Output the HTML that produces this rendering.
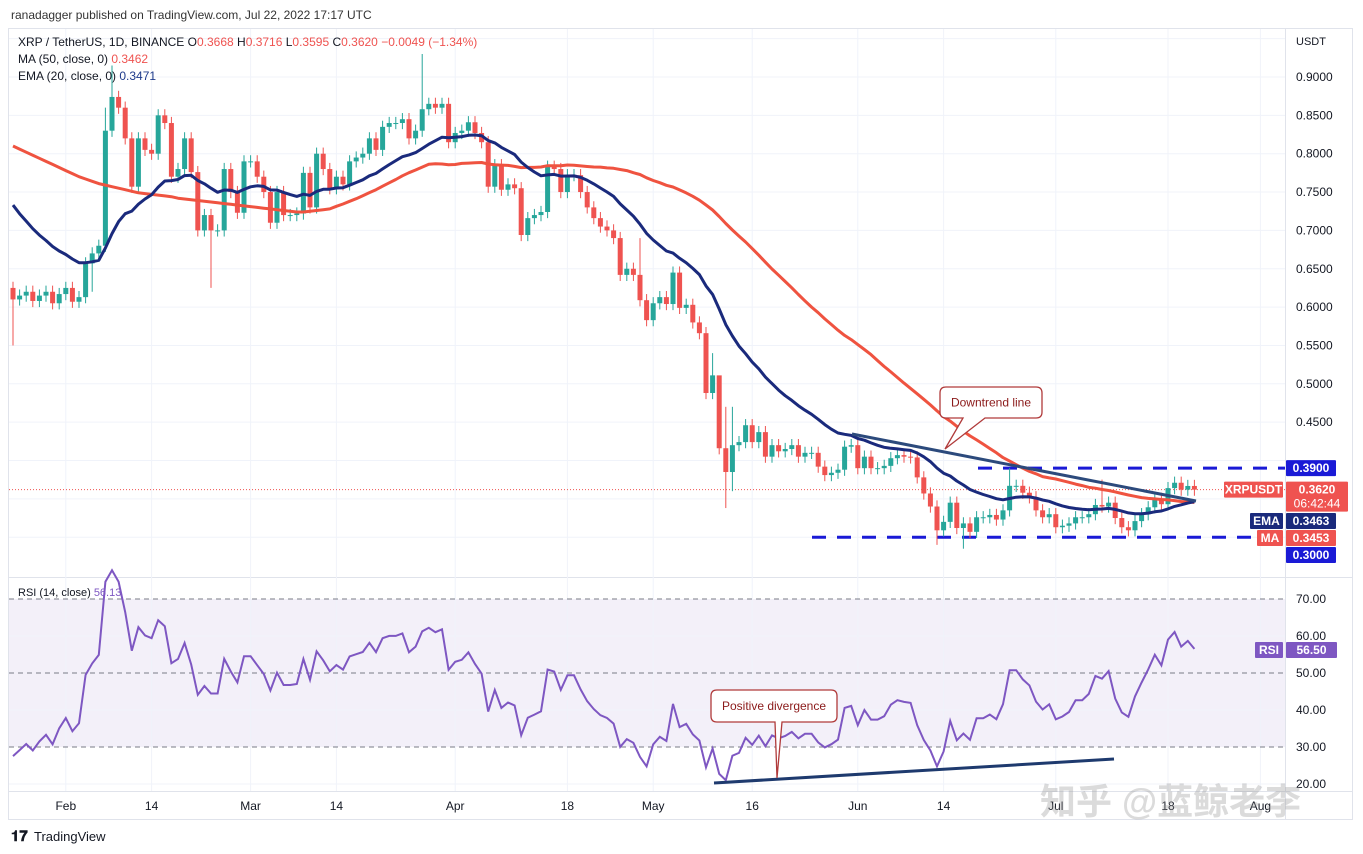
<!DOCTYPE html>
<html><head><meta charset="utf-8"><style>
html,body{margin:0;padding:0;background:#fff;}
svg{display:block;font-family:"Liberation Sans","Noto Sans CJK SC",sans-serif;}
</style></head><body>
<svg id="chart" width="1363" height="854" viewBox="0 0 1363 854" xmlns="http://www.w3.org/2000/svg">
<rect x="0" y="0" width="1363" height="854" fill="#fff"/>
<text x="11" y="19" font-size="12" fill="#333">ranadagger published on TradingView.com, Jul 22, 2022 17:17 UTC</text>
<rect x="8.5" y="28.5" width="1344" height="791" fill="none" stroke="#e0e3eb"/>
<line x1="1285.5" y1="28" x2="1285.5" y2="820" stroke="#e0e3eb"/>
<line x1="8" y1="577.5" x2="1352" y2="577.5" stroke="#e0e3eb"/>
<line x1="8" y1="791.5" x2="1352" y2="791.5" stroke="#e0e3eb"/>
<rect x="9" y="599" width="1276" height="148" fill="#7e57c2" fill-opacity="0.09"/>
<g id="grid"></g>
<g id="annotLow"></g>
<g id="candles"></g>
<g id="lines"></g>
<g id="annot"></g>
<g id="axes"></g>
<text x="18" y="46" font-size="12" fill="#131722">XRP / TetherUS, 1D, BINANCE <tspan fill="#131722">O</tspan><tspan fill="#ef5350">0.3668</tspan> <tspan fill="#131722">H</tspan><tspan fill="#ef5350">0.3716</tspan> <tspan fill="#131722">L</tspan><tspan fill="#ef5350">0.3595</tspan> <tspan fill="#131722">C</tspan><tspan fill="#ef5350">0.3620</tspan> <tspan fill="#ef5350">−0.0049 (−1.34%)</tspan></text>
<text x="18" y="63" font-size="12" fill="#131722">MA (50, close, 0) <tspan fill="#ef5350">0.3462</tspan></text>
<text x="18" y="80" font-size="12" fill="#131722">EMA (20, close, 0) <tspan fill="#1e3a8a">0.3471</tspan></text>
<text x="18" y="596" font-size="11" fill="#131722">RSI (14, close) <tspan fill="#7e57c2">56.13</tspan></text>
<text x="1040" y="814" font-size="36" font-weight="bold" fill="#999" fill-opacity="0.35">知乎 @蓝鲸老李</text>
<g><text x="11" y="841" font-size="15" font-weight="bold" fill="#131722">𝟏𝟕</text><text x="34" y="841" font-size="13" fill="#131722">TradingView</text></g>
</svg>
<script>
const closes = [.61,.615,.62,.608,.615,.62,.605,.617,.625,.607,
.613,.657,.67,.68,.83,.874,.86,.82,.757,.82,
.805,.80,.85,.84,.77,.78,.82,.776,.70,.72,
.70,.70,.78,.75,.723,.79,.79,.77,.75,.71,
.75,.72,.72,.722,.775,.73,.80,.78,.755,.77,
.76,.79,.795,.80,.82,.805,.835,.84,.84,.845,
.82,.83,.858,.865,.86,.865,
.815,.827,.83,.841,.827,.815,.757,.785,.753,.76,
.755,.694,.716,.72,.724,.783,.78,.75,.772,.772,
.75,.73,.716,.705,.70,.69,.642,.65,.642,.609,
.583,.605,.613,.604,.645,.599,.603,.58,.566,.488,
.511,.416,.385,.42,.424,.446,.424,.437,.405,.42,
.412,.415,.42,.405,.41,.41,.392,.381,.384,.388,
.418,.42,.39,.405,.39,.39,.393,.403,
.407,.405,.404,.378,.357,.34,.309,.32,.345,.312,
.318,.307,.326,.326,.329,.323,.335,.367,.367,.358,
.352,.335,.326,.33,.313,.315,.318,.326,.326,.33,
.342,.34,.345,.325,.313,.309,.321,.33,.339,.35,
.343,.364,.371,.362,.3668,.362];
const firstOpen = 0.625;
// notable wick extremes: [index, high, low]
const wickHighs = [[15,.915],[14,.86],[62,.93],[95,.69],[106,.54],[107,.47],[108,.47],[109,.47],[151,.39],[165,.375]];
const wickLows = [[0,.55],[12,.62],[30,.625],[108,.338],[109,.36],[140,.29],[144,.285]];
const maHead = [.81,.806,.802,.798,.794,.79,.786,.782,.778,.774,.77,.767,.764,.761,.759,.757,.755,.753,.751,.749,.748,.747,.746,.745,.744,.742,.741,.74,.739,.738,.737,.736,.735,.734,.733,.732,.731,.73,.729,.728,.727,.726,.725,.724,.724,.725,.726,.727,.728];
const emaSeed = 0.733;
const priceTicks = [0.90,0.85,0.80,0.75,0.70,0.65,0.60,0.55,0.50,0.45,0.40,0.35,0.30];
const rsiTicks = [70,60,50,40,30,20];
const dateLabels = ["Feb","14","Mar","14","Apr","18","May","16","Jun","14","Jul","18","Aug"];
const dateIndex = [8,21,36,49,67,84,97,112,128,141,158,175,189];

const NS="http://www.w3.org/2000/svg";
function px(i){return 13+i*6.6;}
function py(p){return 77+(0.9-p)*767;}
function ry(v){return 599+(70-v)*3.7;}
function mk(tag,attrs,parent){const e=document.createElementNS(NS,tag);for(const k in attrs)e.setAttribute(k,attrs[k]);parent.appendChild(e);return e;}
const G=document.getElementById('grid'),C=document.getElementById('candles'),L=document.getElementById('lines'),A=document.getElementById('annot'),AL=document.getElementById('annotLow'),X=document.getElementById('axes');

[0.95].concat(priceTicks).forEach(p=>{const l=mk('line',{x1:9,x2:1285,y1:py(p),y2:py(p),stroke:'#f0f3fa'},G);

});
dateIndex.forEach(i=>{const x=px(i);if(x>1285)return;const l=mk('line',{x1:x,x2:x,y1:29,y2:791,stroke:'#f0f3fa'},G);

});
[60,40,20].forEach(v=>{const l=mk('line',{x1:9,x2:1285,y1:ry(v),y2:ry(v),stroke:'#f0f3fa'},G);

});
[70,50,30].forEach(v=>{const l=mk('line',{x1:9,x2:1285,y1:ry(v),y2:ry(v),stroke:'#787b86','stroke-dasharray':'5,4','stroke-width':1},G);

});
const lastC=closes[closes.length-1];
const cpl=mk('line',{x1:9,x2:1285,y1:py(lastC),y2:py(lastC),stroke:'#ef5350','stroke-dasharray':'1,2'},G);



const hiMap={},loMap={};wickHighs.forEach(w=>hiMap[w[0]]=w[1]);wickLows.forEach(w=>loMap[w[0]]=w[1]);
closes.forEach((c,i)=>{
  const o=i===0?firstOpen:closes[i-1];
  const up=c>=o;const col=up?'#26a69a':'#ef5350';
  const h=hiMap[i]!==undefined?hiMap[i]:Math.max(o,c)+0.008;
  const lo=loMap[i]!==undefined?loMap[i]:Math.min(o,c)-0.008;
  const x=px(i);
  const w=mk('line',{x1:x,x2:x,y1:py(h),y2:py(lo),stroke:col,'stroke-width':1},C);
  
  
  const top=py(Math.max(o,c)),bh=Math.max(1,py(Math.min(o,c))-top);
  const b=mk('rect',{x:x-2.5,y:top,width:5,height:bh,fill:col},C);
  
  
});

const ma=closes.map((c,i)=>{if(i<maHead.length)return maHead[i];let s=0;for(let k=i-49;k<=i;k++)s+=closes[k];return s/50;});
const ema=[];let e=emaSeed;const kf=2/21;closes.forEach((c,i)=>{if(i>0)e=c*kf+e*(1-kf);ema.push(e);});
function poly(arr,col,name,fy){const pts=arr.map((v,i)=>px(i).toFixed(1)+','+fy(v).toFixed(1)).join(' ');const p=mk('polyline',{points:pts,fill:'none',stroke:col,'stroke-width':3,'stroke-linejoin':'round'},L);

return p;}
poly(ma,'#ef5340','ma50-line',py);
poly(ema,'#1a2a7c','ema20-line',py);

let ag=0.005,al=0.012;const rsi=[];
closes.forEach((c,i)=>{const o=i===0?firstOpen:closes[i-1];const d=c-o;ag=(ag*13+Math.max(d,0))/14;al=(al*13+Math.max(-d,0))/14;rsi.push(100-100/(1+ag/al));});
const rl=mk('polyline',{points:rsi.map((v,i)=>px(i).toFixed(1)+','+ry(v).toFixed(1)).join(' '),fill:'none',stroke:'#7e57c2','stroke-width':2},L);



function dash(x1,p,name){const l=mk('line',{x1:x1,x2:1285,y1:py(p),y2:py(p),stroke:'#1a1ad6','stroke-width':3,'stroke-dasharray':'14,11'},AL);

}
dash(978,0.39,'resistance-line');
dash(812,0.30,'support-line');
const dt=mk('line',{x1:852,y1:434,x2:1196,y2:501,stroke:'#2c4a7c','stroke-width':3},A);


const rt=mk('line',{x1:714,y1:783,x2:1114,y2:759,stroke:'#1e3a6e','stroke-width':3},A);


function callout(x,y,w,h,tx,ty,px1,px2,text,name){
  const g=mk('g',{},A);
  
  
  mk('path',{d:`M${x+6},${y} H${x+w-6} Q${x+w},${y} ${x+w},${y+6} V${y+h-6} Q${x+w},${y+h} ${x+w-6},${y+h} H${px2} L${tx},${ty} L${px1},${y+h} H${x+6} Q${x},${y+h} ${x},${y+h-6} V${y+6} Q${x},${y} ${x+6},${y} Z`,fill:'#fff',stroke:'#b03a3a','stroke-width':1.3},g);
  const t=mk('text',{x:x+w/2,y:y+h/2+4,'font-size':12,fill:'#8b1a1a','text-anchor':'middle'},g);t.textContent=text;
}
callout(940,387,102,31,945,449,963,985,'Downtrend line','downtrend-callout');
callout(711,690,126,32,777,778,775,782,'Positive divergence','divergence-callout');

priceTicks.forEach(p=>{if(p===0.40||p===0.35||p===0.30)return;const t=mk('text',{x:1296,y:py(p)+4,'font-size':12,fill:'#131722'},X);t.textContent=p.toFixed(4);

});
const ut=mk('text',{x:1296,y:45,'font-size':11,fill:'#131722'},X);ut.textContent='USDT';


rsiTicks.forEach(v=>{const t=mk('text',{x:1296,y:ry(v)+4,'font-size':12,fill:'#131722'},X);t.textContent=v.toFixed(2);

});
dateLabels.forEach((d,k)=>{const x=px(dateIndex[k]);const t=mk('text',{x:x,y:810,'font-size':12,fill:'#131722','text-anchor':'middle'},X);t.textContent=d;

});
function tag(x,y,w,h,fill,text,name,sub){const g=mk('g',{},X);


mk('rect',{x:x,y:y,width:w,height:h,fill:fill,rx:1},g);const t=mk('text',{x:x+w/2,y:y+12,'font-size':12,'font-weight':'bold',fill:'#fff','text-anchor':'middle'},g);t.textContent=text;
if(sub){const s=mk('text',{x:x+w/2,y:y+26,'font-size':12,fill:'#fff','text-anchor':'middle'},g);s.textContent=sub;}}
tag(1286,py(0.39)-8,50,16,'#1a1ad6','0.3900','resistance-price-tag');
tag(1224,py(lastC)-8,59,16,'#ef5350','XRPUSDT','symbol-tag');
tag(1286,py(lastC)-8,62,30,'#ef5350',lastC.toFixed(4),'last-price-tag','06:42:44');
tag(1250,513,33,16,'#1a2a7c','EMA','ema-name-tag');
tag(1286,513,50,16,'#1a2a7c',ema[ema.length-1].toFixed(4),'ema-value-tag');
tag(1257,530,26,16,'#ef5350','MA','ma-name-tag');
tag(1286,530,50,16,'#ef5350',ma[ma.length-1].toFixed(4),'ma-value-tag');
tag(1286,547,50,16,'#1a1ad6','0.3000','support-price-tag');
tag(1255,642,28,16,'#7e57c2','RSI','rsi-name-tag');
tag(1286,642,51,16,'#7e57c2',rsi[rsi.length-1].toFixed(2),'rsi-value-tag');
</script>
</body></html>
